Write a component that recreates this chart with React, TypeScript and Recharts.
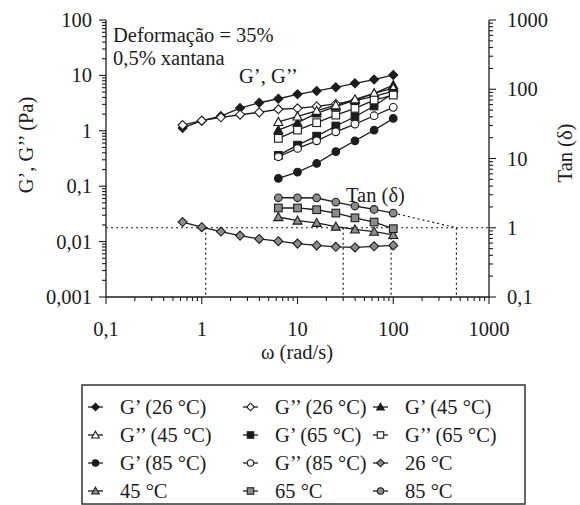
import React from "react";
import { ComposedChart, Line, XAxis, YAxis } from "recharts";

const FONT = '"Liberation Serif", "Times New Roman", serif';
const INK = "#1c1c1c";
const GREY = "#8c8c8c";
const FS = 20.5;

// frequências (rad/s)
const freq26 = [0.631, 1, 1.585, 2.512, 3.981, 6.31, 10, 15.85, 25.12, 39.81, 63.1, 100];
const freqHot = [6.31, 10, 15.85, 25.12, 39.81, 63.1, 100];

// G' e G'' (Pa)
const gp26 = [1.12, 1.52, 1.84, 2.57, 3.21, 3.79, 4.55, 5.25, 6.1, 7.2, 8.4, 10.2];
const gpp26 = [1.27, 1.52, 1.75, 1.95, 2.15, 2.45, 2.55, 2.75, 3.05, 3.5, 4.2, 5.2];
const gp45 = [1.03, 1.4, 2.07, 2.72, 3.59, 4.75, 6.7];
const gpp45 = [1.45, 1.82, 2.3, 2.9, 3.7, 4.75, 5.9];
const gp65 = [0.36, 0.55, 0.8, 1.22, 1.79, 2.8, 4.75];
const gpp65 = [0.73, 1.03, 1.4, 1.92, 2.54, 3.59, 4.42];
const gp85 = [0.138, 0.18, 0.257, 0.42, 0.66, 1.03, 1.67];
const gpp85 = [0.34, 0.48, 0.66, 0.96, 1.32, 1.87, 2.65];

// tan(delta)
const tan26 = [1.21, 1.02, 0.88, 0.77, 0.69, 0.64, 0.59, 0.555, 0.53, 0.52, 0.54, 0.555];
const tan45 = [1.43, 1.27, 1.18, 1.04, 0.945, 0.88, 0.79];
const tan65 = [1.93, 1.93, 1.82, 1.63, 1.39, 1.21, 0.97];
const tan85 = [2.71, 2.71, 2.69, 2.35, 2.06, 1.84, 1.63];

// pontos de cruzamento (tan = 1)
const crossW = [1.1, 30, 95, 457];

const xMajor = [0.1, 1, 10, 100, 1000];
const xLabels = ["0,1", "1", "10", "100", "1000"];
const gMajor = [0.001, 0.01, 0.1, 1, 10, 100];
const gLabels = ["0,001", "0,01", "0,1", "1", "10", "100"];
const tMajor = [0.1, 1, 10, 100, 1000];
const tLabels = ["0,1", "1", "10", "100", "1000"];

type Shape = "diamond" | "triangle" | "square" | "circle";

const withMinors = (majors: number[]) => {
  const out: number[] = [];
  majors.forEach((m, i) => {
    out.push(m);
    if (i < majors.length - 1) for (let k = 2; k <= 9; k++) out.push(m * k);
  });
  return out;
};

const pts = (xs: number[], ys: number[]) => xs.map((x, i) => ({ x, y: ys[i] }));

const series = [
  { name: "G’ (26 °C)", axis: "g", xs: freq26, ys: gp26, shape: "diamond" as Shape, fill: INK },
  { name: "G’’ (26 °C)", axis: "g", xs: freq26, ys: gpp26, shape: "diamond" as Shape, fill: "#fff" },
  { name: "G’ (45 °C)", axis: "g", xs: freqHot, ys: gp45, shape: "triangle" as Shape, fill: INK },
  { name: "G’’ (45 °C)", axis: "g", xs: freqHot, ys: gpp45, shape: "triangle" as Shape, fill: "#fff" },
  { name: "G’ (65 °C)", axis: "g", xs: freqHot, ys: gp65, shape: "square" as Shape, fill: INK },
  { name: "G’’ (65 °C)", axis: "g", xs: freqHot, ys: gpp65, shape: "square" as Shape, fill: "#fff" },
  { name: "G’ (85 °C)", axis: "g", xs: freqHot, ys: gp85, shape: "circle" as Shape, fill: INK },
  { name: "G’’ (85 °C)", axis: "g", xs: freqHot, ys: gpp85, shape: "circle" as Shape, fill: "#fff" },
  { name: "26 °C", axis: "t", xs: freq26, ys: tan26, shape: "diamond" as Shape, fill: GREY },
  { name: "45 °C", axis: "t", xs: freqHot, ys: tan45, shape: "triangle" as Shape, fill: GREY },
  { name: "65 °C", axis: "t", xs: freqHot, ys: tan65, shape: "square" as Shape, fill: GREY },
  { name: "85 °C", axis: "t", xs: freqHot, ys: tan85, shape: "circle" as Shape, fill: GREY },
];

function Marker({ shape, cx, cy, fill, s = 4.5 }: { shape: Shape; cx: number; cy: number; fill: string; s?: number }) {
  const st = { fill, stroke: INK, strokeWidth: 1.1 };
  if (shape === "diamond")
    return <polygon points={`${cx},${cy - s} ${cx + s},${cy} ${cx},${cy + s} ${cx - s},${cy}`} {...st} />;
  if (shape === "triangle")
    return <polygon points={`${cx},${cy - s} ${cx + s},${cy + s * 0.8} ${cx - s},${cy + s * 0.8}`} {...st} />;
  if (shape === "square")
    return <rect x={cx - s * 0.85} y={cy - s * 0.85} width={s * 1.7} height={s * 1.7} {...st} />;
  return <circle cx={cx} cy={cy} r={s * 0.85} {...st} />;
}

// tick de escala log: maior com rótulo, menor só traço
function LogTick(props: any) {
  const { x, y, payload, side, majors, labels } = props;
  const i = majors.indexOf(payload.value);
  const len = i >= 0 ? 7 : 4;
  const txt = { fontFamily: FONT, fontSize: FS, fill: INK };
  if (side === "bottom")
    return (
      <g>
        <line x1={x} x2={x} y1={y} y2={y + len} stroke={INK} strokeWidth={1.1} />
        {i >= 0 && <text x={x} y={y + 39} textAnchor="middle" {...txt}>{labels[i]}</text>}
      </g>
    );
  if (side === "left")
    return (
      <g>
        <line x1={x - len} x2={x} y1={y} y2={y} stroke={INK} strokeWidth={1.1} />
        {i >= 0 && <text x={x - 14} y={y + 7} textAnchor="end" {...txt}>{labels[i]}</text>}
      </g>
    );
  return (
    <g>
      <line x1={x} x2={x + len} y1={y} y2={y} stroke={INK} strokeWidth={1.1} />
      {i >= 0 && <text x={x + 18} y={y + 7} textAnchor="start" {...txt}>{labels[i]}</text>}
    </g>
  );
}

const dotted = { stroke: INK, strokeWidth: 1.2, strokeDasharray: "2 3", dot: false, activeDot: false, isAnimationActive: false };

export default function App() {
  const legendCols = [88, 243, 373];
  const legendRows = [407, 435, 463, 491];
  return (
    <div style={{ position: "absolute", left: 0, top: 0, width: 580, height: 505, background: "#fff" }}>
      <ComposedChart width={580} height={360} margin={{ top: 20, right: 10, bottom: 10, left: 10 }}>
        <XAxis
          type="number"
          dataKey="x"
          scale="log"
          domain={[0.1, 1000]}
          ticks={withMinors(xMajor)}
          interval={0}
          tickSize={0}
          tickMargin={0}
          tickLine={false}
          axisLine={{ stroke: INK, strokeWidth: 1.3 }}
          tick={<LogTick side="bottom" majors={xMajor} labels={xLabels} />}
          height={53}
        />
        <YAxis
          yAxisId="g"
          orientation="left"
          type="number"
          scale="log"
          domain={[0.001, 100]}
          ticks={withMinors(gMajor)}
          interval={0}
          tickSize={0}
          tickMargin={0}
          tickLine={false}
          axisLine={{ stroke: INK, strokeWidth: 1.3 }}
          tick={<LogTick side="left" majors={gMajor} labels={gLabels} />}
          width={96}
        />
        <YAxis
          yAxisId="t"
          orientation="right"
          type="number"
          scale="log"
          domain={[0.1, 1000]}
          ticks={withMinors(tMajor)}
          interval={0}
          tickSize={0}
          tickMargin={0}
          tickLine={false}
          axisLine={{ stroke: INK, strokeWidth: 1.3 }}
          tick={<LogTick side="right" majors={tMajor} labels={tLabels} />}
          width={81}
        />
        {/* linha tan = 1 e cruzamentos */}
        <Line yAxisId="t" data={pts([0.1, 1000], [1, 1])} dataKey="y" {...dotted} />
        {crossW.map((w) => (
          <Line key={"v" + w} yAxisId="t" data={pts([w, w], [1, 0.1])} dataKey="y" {...dotted} />
        ))}
        <Line yAxisId="t" data={pts([100, crossW[3]], [tan85[tan85.length - 1], 1])} dataKey="y" {...dotted} />
        {series.map((s) => (
          <Line
            key={s.name}
            yAxisId={s.axis}
            data={pts(s.xs, s.ys)}
            dataKey="y"
            stroke={INK}
            strokeWidth={1.3}
            activeDot={false}
            isAnimationActive={false}
            dot={(p: any) => <Marker key={p.index} shape={s.shape} cx={p.cx} cy={p.cy} fill={s.fill} />}
          />
        ))}
      </ComposedChart>
      <svg width={580} height={505} style={{ position: "absolute", left: 0, top: 0, pointerEvents: "none" }}>
        <g fontFamily={FONT} fontSize={FS} fill={INK}>
          <text x={113} y={42}>Deformação = 35%</text>
          <text x={113} y={65}>0,5% xantana</text>
          <text x={239} y={83}>G’, G’’</text>
          <text x={346} y={202}>Tan (δ)</text>
          <text x={33} y={145} transform="rotate(-90 33 145)" textAnchor="middle">G’, G’’ (Pa)</text>
          <text x={572} y={153} transform="rotate(-90 572 153)" textAnchor="middle">Tan (δ)</text>
          <text x={297} y={359} textAnchor="middle">ω (rad/s)</text>
        </g>
        <rect x={82} y={385} width={443} height={119} fill="none" stroke="#333" strokeWidth={1.5} />
        {series.map((s, i) => {
          const lx = legendCols[i % 3];
          const ly = legendRows[Math.floor(i / 3)];
          return (
            <g key={s.name}>
              <line x1={lx} x2={lx + 15} y1={ly} y2={ly} stroke={INK} strokeWidth={1.3} />
              <Marker shape={s.shape} cx={lx + 7.5} cy={ly} fill={s.fill} s={3.8} />
              <text x={lx + 32} y={ly + 7} fontFamily={FONT} fontSize={FS} fill={INK}>{s.name}</text>
            </g>
          );
        })}
      </svg>
    </div>
  );
}
